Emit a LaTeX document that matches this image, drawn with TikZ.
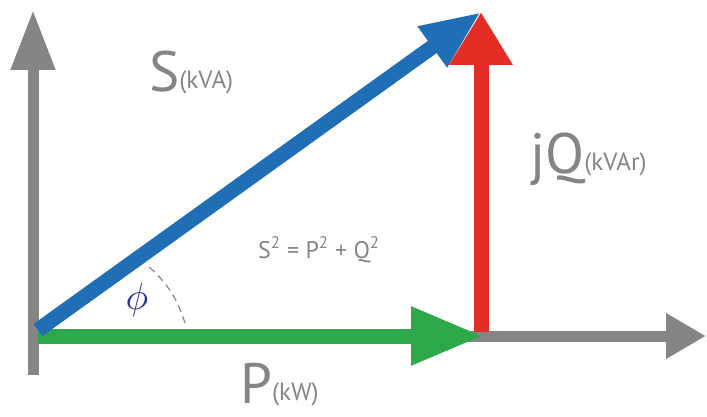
\documentclass[tikz,border=0pt]{standalone}
\usepackage{fontspec}
\setmainfont{PT Sans}
\usetikzlibrary{arrows.meta}
\definecolor{axisgray}{HTML}{858585}
\definecolor{sblue}{HTML}{1F6EB6}
\definecolor{pgreen}{HTML}{2DA84A}
\definecolor{qred}{HTML}{E32D25}
\definecolor{phiblue}{HTML}{2B3190}
\newcommand{\unitfont}{\fontsize{25}{28}\selectfont}
\newcommand{\unit}[1]{\raisebox{3pt}{\unitfont(#1)}}

\begin{document}
\begin{tikzpicture}[
    x=1pt,y=1pt,
    axis/.style={axisgray,line width=11pt},
    vector/.style={line width=15pt},
    quantity/.style={text=axisgray,inner sep=0pt,anchor=base west,font=\fontsize{57}{60}\selectfont}
  ]
    \useasboundingbox (0,0) rectangle (707,416);

    % Axes and the corners of the power triangle.
    \coordinate (O)    at (38,80);
    \coordinate (Ob)   at (38,86);
    \coordinate (Xs)   at (33,80);
    \coordinate (Xe)   at (706,80);
    \coordinate (Ys)   at (33,41);
    \coordinate (Ye)   at (33,406);
    \coordinate (Pe)   at (483,80);
    \coordinate (Qs)   at (481,84);
    \coordinate (Qe)   at (481,404);
    \coordinate (A1)   at (185,93);
    \coordinate (A2)   at (147,151);

    % Gray axes.
    \draw[axis,-{Triangle[length=40pt,width=43pt]}] (Xs)--(Xe);
    \draw[axis,-{Triangle[length=60pt,width=42pt]}] (Ys)--(Ye);

    % Active, apparent and reactive power.
    \draw[vector,pgreen,-{Triangle[length=72pt,width=55pt]}] (O)--(Pe);
    \draw[vector,sblue,-{Triangle[length=60pt,width=46pt]}] (Ob)--(Qe);
    \draw[vector,qred,-{Triangle[length=53pt,width=60pt]}] (Qs)--(Qe);

    % Angle between S and P.
    \draw[axisgray,line width=1.2pt,dash pattern=on 7pt off 5pt] (A1) to[bend right=15] (A2);
    \node[text=phiblue,inner sep=0pt] (phi) at (137,116) {\scalebox{3.8}{$\phi$}};

    % Labels.
    \node[quantity] (S label) at (149,324) {S\unit{kVA}};
    \node[quantity] (Q label) at (530,243) {jQ\unit{kVAr}};
    \node[quantity] (P label) at (240,13) {P\unit{kW}};
    \node[quantity,font=\fontsize{24}{26}\selectfont] (law) at (258,158)
      {S\textsuperscript{2} = P\textsuperscript{2} + Q\textsuperscript{2}};
  \end{tikzpicture}
\end{document}
